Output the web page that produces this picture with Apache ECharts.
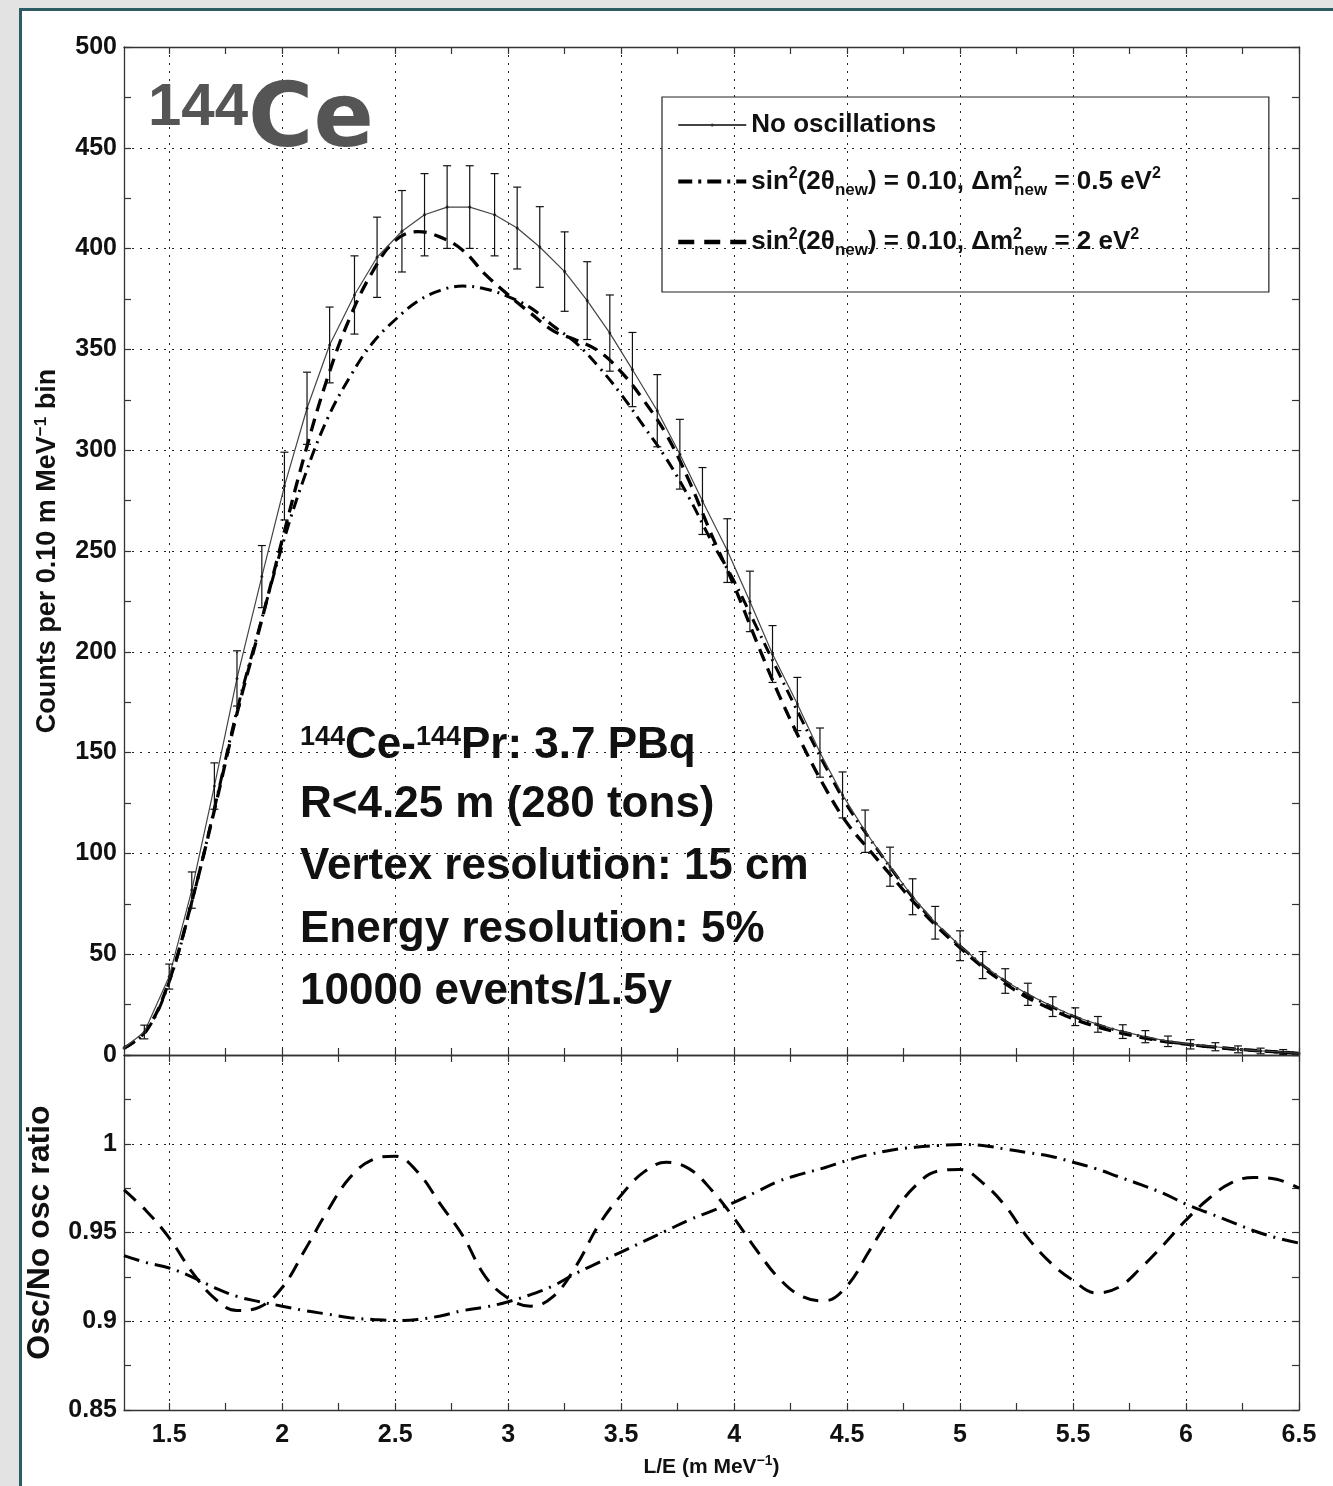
<!DOCTYPE html>
<html>
<head>
<meta charset="utf-8">
<script src="https://cdn.jsdelivr.net/npm/echarts@6/dist/echarts.min.js"></script>
<style>
html,body{margin:0;padding:0;background:#e3e3e3;overflow:hidden;}
#panel{position:absolute;left:19px;top:8px;width:1330px;height:1500px;background:#fff;border-left:3px solid #2d5b62;border-top:3px solid #2d5b62;}
#c{position:absolute;left:0;top:0;width:1333px;height:1486px;}
</style>
</head>
<body>
<div id="panel"></div>
<div id="c"></div>
<script>
// ---------------- data ----------------
// L/E positions of the error-bar points (m/MeV)
const barX = [1.39,1.50,1.60,1.70,1.80,1.91,2.01,2.11,2.21,2.32,2.42,2.53,2.63,2.73,2.83,2.94,3.04,3.14,3.25,3.35,3.45,3.55,3.66,3.76,3.86,3.97,4.07,4.17,4.28,4.38,4.48,4.58,4.69,4.79,4.89,5.00,5.10,5.20,5.30,5.41,5.51,5.61,5.72,5.82,5.92,6.02,6.13,6.23,6.33,6.43];
// No-oscillation counts at those points
const barY = [11.4,38.9,81.8,133.4,186.8,237.3,282.2,320.8,352.2,377,395.7,408.6,416.8,420.6,420.6,416.8,410.2,400.8,388.6,374.2,358.1,340,319.6,298,274.8,250.2,225,198.9,174.1,150,129,111,93.4,78.5,65.6,54.2,44.6,36.7,30.1,24,19,15.2,11.6,9.1,6.8,5.3,4.1,2.8,2.0,1.5];
// half-length of each error bar
const barErr = [3.4,6.2,9.0,11.5,13.7,15.4,16.8,17.9,18.8,19.4,19.9,20.2,20.4,20.5,20.5,20.4,20.3,20.0,19.7,19.3,18.9,18.4,17.9,17.3,16.6,15.8,15.0,14.1,13.2,12.2,11.4,10.5,9.7,8.9,8.1,7.4,6.7,6.1,5.5,4.9,4.4,3.9,3.4,3.0,2.6,2.3,2.0,1.7,1.4,1.2];
// curve end points of the no-oscillation line
const noOscStart = [1.3, 3.5];
const noOscEnd = [6.5, 0.8];

// grid of L/E used for the oscillated curves
const curveX = [1.3,1.4,1.5,1.6,1.7,1.8,1.9,2.0,2.1,2.2,2.3,2.4,2.5,2.6,2.7,2.8,2.9,3.0,3.1,3.2,3.3,3.4,3.5,3.6,3.7,3.8,3.9,4.0,4.1,4.2,4.3,4.4,4.5,4.6,4.7,4.8,4.9,5.0,5.1,5.2,5.3,5.4,5.5,5.6,5.7,5.8,5.9,6.0,6.1,6.2,6.3,6.4,6.5];
// counts, sin^2 = 0.10, dm^2 = 0.5 eV^2 (dash-dot)
const osc05Counts = [3.3,12.1,36.3,75.9,122.2,170.9,212.3,252.6,287.2,315.5,336.4,353.2,364.7,373.9,379.3,381.4,380,376.2,370.6,361.6,353.2,341.5,327.7,311.9,295.8,276.6,254.9,235,212.1,188.9,166.1,144,123.8,107.4,91.7,76.8,64.4,54,44.6,36.6,29.9,24.3,19.3,15.3,12,9.3,7.0,5.4,4.1,3.1,2.2,1.5,0.8];
// counts, sin^2 = 0.10, dm^2 = 2 eV^2 (dashed)
const osc2Counts = [3.4,12.5,36.9,76.1,121.4,169.4,211.6,255.5,298,335.7,365.9,388.5,404,408.4,405.7,399.1,387.1,377.1,367.9,359.2,354.7,349.2,338.9,324.7,307.8,285,258.1,232.8,204.9,178.3,154.5,133.1,115,101.5,88.3,75.2,63.5,53.2,43.6,35.4,28.4,22.9,18,14.2,11.2,8.8,6.8,5.4,4.2,3.1,2.3,1.6,0.8];
// ratio osc / no osc
const osc05Ratio = [0.937,0.933,0.930,0.925,0.919,0.914,0.911,0.9085,0.906,0.904,0.902,0.901,0.9004,0.901,0.903,0.906,0.908,0.911,0.915,0.920,0.927,0.933,0.939,0.945,0.951,0.957,0.962,0.967,0.973,0.979,0.983,0.9865,0.9906,0.994,0.9965,0.998,0.999,0.9996,0.999,0.997,0.995,0.993,0.9896,0.986,0.9815,0.977,0.972,0.966,0.961,0.956,0.951,0.947,0.944];
const osc2Ratio = [0.974,0.962,0.947,0.928,0.913,0.906,0.908,0.919,0.94,0.962,0.981,0.991,0.993,0.984,0.966,0.948,0.925,0.913,0.9085,0.914,0.931,0.954,0.971,0.984,0.9896,0.986,0.974,0.958,0.94,0.924,0.914,0.9115,0.92,0.94,0.96,0.976,0.9845,0.9855,0.978,0.965,0.947,0.933,0.923,0.916,0.919,0.93,0.943,0.957,0.969,0.978,0.981,0.98,0.975];

// tick values
const xMajorTicks = [1.5,2,2.5,3,3.5,4,4.5,5,5.5,6,6.5];
const xMinorTicks = [1.5,1.75,2,2.25,2.5,2.75,3,3.25,3.5,3.75,4,4.25,4.5,4.75,5,5.25,5.5,5.75,6,6.25,6.5];

// texts
const seriesNames = ['No oscillations',
  'sin2(2θnew) = 0.10, Δm2new = 0.5 eV2',
  'sin2(2θnew) = 0.10, Δm2new = 2 eV2'];
const legendLabels = {
  'No oscillations': '{t|No oscillations}',
  'sin2(2θnew) = 0.10, Δm2new = 0.5 eV2': '{t|sin}{sup|2}{t|(2θ}{sub|new}{t|) = 0.10, Δm}{supz|2}{sub|new}{t| = 0.5 eV}{sup|2}',
  'sin2(2θnew) = 0.10, Δm2new = 2 eV2': '{t|sin}{sup|2}{t|(2θ}{sub|new}{t|) = 0.10, Δm}{supz|2}{sub|new}{t| = 2 eV}{sup|2}'
};
const annLines = [
  '{s|144}{m|Ce-}{s|144}{m|Pr: 3.7 PBq}',
  '{m|R<4.25 m (280 tons)}',
  '{m|Vertex resolution: 15 cm}',
  '{m|Energy resolution: 5%}',
  '{m|10000 events/1.5y}'
];
const isotopeLabel = '{a|144}{b|Ce}';

// ---------------- chart ----------------
const FONT = "'Liberation Sans', Arial, Helvetica, sans-serif";
const AX = '#333';
const gridLine = {show:true, lineStyle:{color:'#222', width:1, type:[2,6]}};

function zip(xs, ys){ return xs.map((x,i)=>[x, ys[i]]); }

const noOscData = [noOscStart].concat(zip(barX, barY)).concat([noOscEnd]);
const errData = barX.map((x,i)=>[x, barY[i]-barErr[i], barY[i]+barErr[i]]);

function xTickAxis(gi, pos, withLabels){
  const a = {type:'value', gridIndex:gi, position:pos, min:1.3, max:6.5,
    axisLine:{show:true, onZero:false, lineStyle:{color:AX, width:1.3}},
    axisTick:{show:true, inside:true, length:7, customValues:xMinorTicks, lineStyle:{color:AX, width:1.2}},
    axisLabel:{show:false},
    splitLine:{show:false}};
  if (withLabels){
    a.axisLabel = {show:true, customValues:xMajorTicks, margin:13, fontSize:25, fontWeight:'bold', fontFamily:FONT, color:'#111',
      formatter: v => String(Math.round(v*100)/100)};
    a.name = 'L/E (m MeV{sup|−1})';
    a.nameLocation = 'middle';
    a.nameGap = 44;
    a.nameTextStyle = {fontSize:21, fontWeight:'bold', fontFamily:FONT, color:'#111',
      rich:{sup:{fontSize:14, fontWeight:'bold', fontFamily:FONT, color:'#111', padding:[0,0,12,0]}}};
  }
  return a;
}
function xGridAxis(gi){
  return {type:'value', gridIndex:gi, position:'bottom', min:1.3, max:6.5,
    axisLine:{show:false, onZero:false}, axisTick:{show:false, customValues:xMajorTicks},
    axisLabel:{show:false, customValues:xMajorTicks}, splitLine:gridLine};
}
function yAxisCfg(gi, pos, min, max, interval, withLabels, extra){
  const a = {type:'value', gridIndex:gi, position:pos, min:min, max:max, interval:interval,
    axisLine:{show:true, onZero:false, lineStyle:{color:AX, width:1.3}},
    axisTick:{show:true, inside:true, length:7, lineStyle:{color:AX, width:1.2}},
    minorTick:{show:true, splitNumber:2, length:7, lineStyle:{color:AX, width:1.2}},
    axisLabel:{show:false},
    splitLine:{show:false}};
  if (withLabels){
    a.axisLabel = {show:true, margin:7, fontSize:25, fontWeight:'bold', fontFamily:FONT, color:'#111',
      formatter: v => (v > 1.04 && v < 2) ? '' : String(Math.round(v*100)/100)};
    a.splitLine = gridLine;
  }
  return Object.assign(a, extra || {});
}

const richBase = {fontWeight:'bold', fontFamily:FONT, color:'#111'};
const chart = echarts.init(document.getElementById('c'), null, {renderer:'canvas'});

const option = {
  animation:false,
  backgroundColor:'transparent',
  grid:[
    {left:124, top:47, width:1175, height:1008, containLabel:false, outerBoundsMode:'none'},
    {left:124, top:1055, width:1175, height:355, containLabel:false, outerBoundsMode:'none'}
  ],
  xAxis:[
    xTickAxis(0,'bottom',false),
    xTickAxis(0,'top',false),
    xGridAxis(0),
    xTickAxis(1,'bottom',true),
    xTickAxis(1,'top',false),
    xGridAxis(1)
  ],
  yAxis:[
    yAxisCfg(0,'left',0,500,50,true,{
      name:'Counts per 0.10 m MeV{sup|−1} bin', nameLocation:'middle', nameGap:61, nameRotate:90,
      nameTextStyle:{fontSize:27, fontWeight:'bold', fontFamily:FONT, color:'#111',
        rich:{sup:{fontSize:17, fontWeight:'bold', fontFamily:FONT, color:'#111', padding:[0,0,13,0]}}}
    }),
    yAxisCfg(0,'right',0,500,50,false),
    yAxisCfg(1,'left',0.85,1.05,0.05,true,{
      name:'Osc/No osc ratio', nameLocation:'middle', nameGap:68, nameRotate:90,
      nameTextStyle:{fontSize:32, fontWeight:'bold', fontFamily:FONT, color:'#111'}
    }),
    yAxisCfg(1,'right',0.85,1.05,0.05,false)
  ],
  legend:{
    data:[
      {name:seriesNames[0]},
      {name:seriesNames[1], lineStyle:{width:4, type:[14,6,3,6]}},
      {name:seriesNames[2], lineStyle:{width:4.5, type:[16,10]}}
    ],
    orient:'vertical', left:662, top:97,
    padding:[15, 108, 33, 14],
    itemGap:28, itemWidth:68, itemHeight:4,
    borderColor:'#222', borderWidth:1.2, backgroundColor:'transparent',
    selectedMode:false,
    formatter: name => legendLabels[name],
    textStyle:{fontSize:26, fontWeight:'bold', fontFamily:FONT, color:'#111',
      rich:{
        t:Object.assign({fontSize:26}, richBase),
        sup:Object.assign({fontSize:16, padding:[0,0,15,0]}, richBase),
        supz:Object.assign({fontSize:16, padding:[0,0,15,0], width:1}, richBase),
        sub:Object.assign({fontSize:17, padding:[17,0,0,0]}, richBase)
      }}
  },
  graphic:[
    {type:'text', x:148, y:78, z:10, style:{text:isotopeLabel,
      rich:{a:{fontSize:60, fontFamily:FONT, fontWeight:'bold', fill:'#555', verticalAlign:'top'},
            b:{fontSize:89, fontFamily:"'DejaVu Sans'", fontWeight:'bold', fill:'#555', verticalAlign:'top'}}}}
  ].concat(annLines.map((t,i)=>({type:'text', x:300, y:[746,805,867,930,992][i], z:10,
    style:{text:t, verticalAlign:'middle', align:'left',
      rich:{m:{fontSize:44, fontFamily:FONT, fontWeight:'bold', fill:'#111'},
            s:{fontSize:27, fontFamily:FONT, fontWeight:'bold', fill:'#111', verticalAlign:'top'}}}}))),
  series:[
    {name:seriesNames[0], type:'line', xAxisIndex:0, yAxisIndex:0, data:noOscData,
      symbol:'circle', symbolSize:3, showSymbol:true, itemStyle:{color:'#333'},
      lineStyle:{color:'#444', width:1.2}, z:3},
    {name:'error bars', type:'custom', xAxisIndex:0, yAxisIndex:0, data:errData, z:4,
      encode:{x:0, y:[1,2]},
      renderItem:(params, api)=>{
        const x = api.value(0);
        const p1 = api.coord([x, api.value(1)]);
        const p2 = api.coord([x, api.value(2)]);
        const w = 4;
        const st = {stroke:'#111', lineWidth:1.2, fill:null};
        return {type:'group', children:[
          {type:'line', shape:{x1:p1[0], y1:p1[1], x2:p2[0], y2:p2[1]}, style:st},
          {type:'line', shape:{x1:p1[0]-w, y1:p1[1], x2:p1[0]+w, y2:p1[1]}, style:st},
          {type:'line', shape:{x1:p2[0]-w, y1:p2[1], x2:p2[0]+w, y2:p2[1]}, style:st}
        ]};
      }},
    {name:seriesNames[1], type:'line', xAxisIndex:0, yAxisIndex:0, data:zip(curveX, osc05Counts),
      symbol:'none', smooth:0.4, itemStyle:{color:'#000'}, lineStyle:{color:'#000', width:3, type:[12,6,2,6]}, z:2},
    {name:seriesNames[2], type:'line', xAxisIndex:0, yAxisIndex:0, data:zip(curveX, osc2Counts),
      symbol:'none', smooth:0.4, itemStyle:{color:'#000'}, lineStyle:{color:'#000', width:3.3, type:[13,8]}, z:2},
    {name:seriesNames[1], type:'line', xAxisIndex:3, yAxisIndex:2, data:zip(curveX, osc05Ratio),
      symbol:'none', smooth:0.4, itemStyle:{color:'#000'}, lineStyle:{color:'#000', width:3, type:[16,7,2,7]}, z:2},
    {name:seriesNames[2], type:'line', xAxisIndex:3, yAxisIndex:2, data:zip(curveX, osc2Ratio),
      symbol:'none', smooth:0.4, itemStyle:{color:'#000'}, lineStyle:{color:'#000', width:3, type:[16,10]}, z:2}
  ]
};
chart.setOption(option);
</script>
</body>
</html>
